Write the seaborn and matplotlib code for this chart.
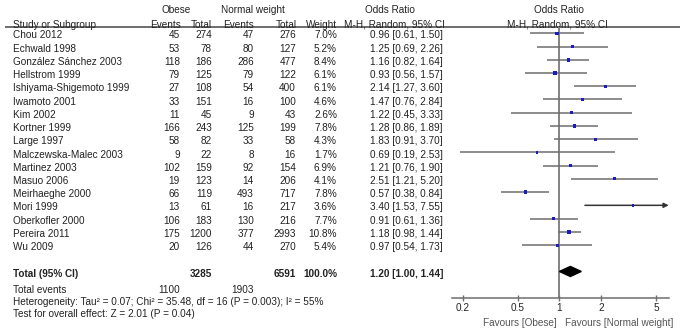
import matplotlib.pyplot as plt
import seaborn as sns
import pandas as pd
import numpy as np

# ----------------------------
# Data
# ----------------------------
studies = ["Chou 2012", "Echwald 1998", "González Sánchez 2003", "Hellstrom 1999",
           "Ishiyama-Shigemoto 1999", "Iwamoto 2001", "Kim 2002", "Kortner 1999",
           "Large 1997", "Malczewska-Malec 2003", "Martinez 2003", "Masuo 2006",
           "Meirhaeghe 2000", "Mori 1999", "Oberkofler 2000", "Pereira 2011", "Wu 2009"]
obese_events  = [45, 53, 118, 79, 27, 33, 11, 166, 58, 9, 102, 19, 66, 13, 106, 175, 20]
obese_total   = [274, 78, 186, 125, 108, 151, 45, 243, 82, 22, 159, 123, 119, 61, 183, 1200, 126]
normal_events = [47, 80, 286, 79, 54, 16, 9, 125, 33, 8, 92, 14, 493, 16, 130, 377, 44]
normal_total  = [276, 127, 477, 122, 400, 100, 43, 199, 58, 16, 154, 206, 717, 217, 216, 2993, 270]
weights = [7.0, 5.2, 8.4, 6.1, 6.1, 4.6, 2.6, 7.8, 4.3, 1.7, 6.9, 4.1, 7.8, 3.6, 7.7, 10.8, 5.4]
odds    = [0.96, 1.25, 1.16, 0.93, 2.14, 1.47, 1.22, 1.28, 1.83, 0.69, 1.21, 2.51, 0.57, 3.40, 0.91, 1.18, 0.97]
ci_low  = [0.61, 0.69, 0.82, 0.56, 1.27, 0.76, 0.45, 0.86, 0.91, 0.19, 0.76, 1.21, 0.38, 1.53, 0.61, 0.98, 0.54]
ci_high = [1.50, 2.26, 1.64, 1.57, 3.60, 2.84, 3.33, 1.89, 3.70, 2.53, 1.90, 5.20, 0.84, 7.55, 1.36, 1.44, 1.73]

total_obese, total_normal = 3285, 6591
events_obese, events_normal = 1100, 1903
pooled_or, pooled_low, pooled_high = 1.20, 1.00, 1.44
heterogeneity = "Heterogeneity: Tau² = 0.07; Chi² = 35.48, df = 16 (P = 0.003); I² = 55%"
overall_test = "Test for overall effect: Z = 2.01 (P = 0.04)"
tick_values = [0.2, 0.5, 1, 2, 5]
tick_labels = ["0.2", "0.5", "1", "2", "5"]

df = pd.DataFrame({"study": studies, "or": odds, "low": ci_low, "high": ci_high,
                   "weight": weights, "row": np.arange(len(studies))})

# ----------------------------
# Style
# ----------------------------
sns.set_theme(style="white")
plt.rcParams["font.family"] = ["Liberation Sans", "DejaVu Sans"]
FS = 7.2
TXT = "#222222"
GREY = "#6e6e6e"

fig = plt.figure(figsize=(6.81, 3.31), dpi=100)
ylim = (22.5, -2.52)

# table axes spans the whole figure, x in pixels, y in rows
tab = fig.add_axes([0, 0, 1, 1])
tab.set_xlim(0, 681)
tab.set_ylim(*ylim)
tab.axis("off")

# forest axes
x0, x1 = 451.7, 669
ax = fig.add_axes([x0 / 681, 0, (x1 - x0) / 681, 1])
ax.set_xscale("log")
xmin, xmax = 0.1664, 6.2
ax.set_xlim(xmin, xmax)
ax.set_ylim(*ylim)
ax.patch.set_alpha(0)

dy = 0.16  # text sits slightly below the marker centre

def put(x, y, s, ha="right", bold=False, **kw):
    tab.text(x, y + dy, s, ha=ha, va="center", fontsize=FS, color=TXT,
             fontweight="bold" if bold else "normal", **kw)

# headers
put(176, -1.91, "Obese", ha="center")
put(253, -1.91, "Normal weight", ha="center")
put(390, -1.91, "Odds Ratio", ha="center")
put(559, -1.91, "Odds Ratio", ha="center")
put(13, -0.80, "Study or Subgroup", ha="left")
put(181, -0.80, "Events")
put(212, -0.80, "Total")
put(254, -0.80, "Events")
put(297, -0.80, "Total")
put(337, -0.80, "Weight")
put(394, -0.80, "M-H, Random, 95% CI", ha="center")
put(557, -0.80, "M-H, Random, 95% CI", ha="center")
tab.plot([5, 680], [-0.5, -0.5], color=GREY, lw=1.4, solid_capstyle="butt")

# study rows
for i, name in enumerate(studies):
    put(13, i, name, ha="left")
    put(180, i, str(obese_events[i]))
    put(212, i, str(obese_total[i]))
    put(254, i, str(normal_events[i]))
    put(296, i, str(normal_total[i]))
    put(337, i, f"{weights[i]:.1f}%")
    put(443, i, f"{odds[i]:.2f} [{ci_low[i]:.2f}, {ci_high[i]:.2f}]")

# totals
put(13, 18, "Total (95% CI)", ha="left", bold=True)
put(212, 18, str(total_obese), bold=True)
put(296, 18, str(total_normal), bold=True)
put(337, 18, "100.0%", bold=True)
put(443, 18, f"{pooled_or:.2f} [{pooled_low:.2f}, {pooled_high:.2f}]", bold=True)
put(13, 19.25, "Total events", ha="left")
put(180, 19.25, str(events_obese))
put(254, 19.25, str(events_normal))
put(13, 20.15, heterogeneity, ha="left")
put(13, 21.06, overall_test, ha="left")

# ----------------------------
# Forest plot
# ----------------------------
axis_row = 20.03
ax.vlines(1, -0.5, axis_row, color="#7a7a7a", lw=1.3)

for _, r in df.iterrows():
    if r["high"] > xmax:
        ax.annotate("", xy=(xmax * 0.995, r["row"]), xytext=(r["low"], r["row"]),
                    arrowprops=dict(arrowstyle="-|>", color="#333333", lw=1.1,
                                    mutation_scale=7, shrinkA=0, shrinkB=0))
    else:
        ax.hlines(r["row"], r["low"], r["high"], color=GREY, lw=1.1)

sns.scatterplot(data=df, x="or", y="row", marker="s", s=2 + df["weight"] * 0.5,
                color="#1a1ac8", edgecolor="none", ax=ax, legend=False, zorder=3)

diamond_x = [pooled_low, pooled_or, pooled_high, pooled_or]
diamond_y = [18, 18 - 0.38, 18, 18 + 0.38]
ax.fill(diamond_x, diamond_y, color="black", zorder=3)

# axis
for side in ["top", "right", "left"]:
    ax.spines[side].set_visible(False)
ax.spines["bottom"].set_position(("data", axis_row))
ax.spines["bottom"].set_color(GREY)
ax.spines["bottom"].set_linewidth(1.1)
ax.set_xticks(tick_values)
ax.set_xticklabels(tick_labels)
ax.minorticks_off()
ax.tick_params(axis="x", direction="inout", length=5, width=1, color=GREY,
               labelsize=FS, labelcolor=TXT, pad=1, bottom=True)
ax.set_yticks([])
ax.set_xlabel("")
ax.set_ylabel("")

ax.text(0.95, 21.72 + dy, "Favours [Obese]", ha="right", va="center", fontsize=FS, color="#555555")
ax.text(1.095, 21.72 + dy, "Favours [Normal weight]", ha="left", va="center", fontsize=FS, color="#555555")

plt.savefig("out.png", dpi=100)
